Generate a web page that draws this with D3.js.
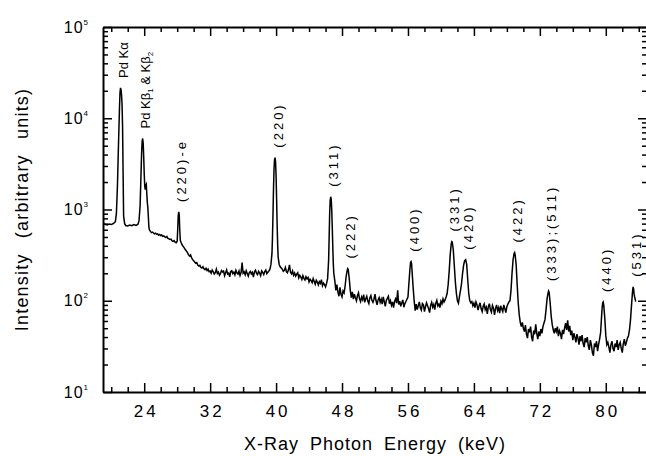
<!DOCTYPE html>
<html>
<head>
<meta charset="utf-8">
<script src="https://cdn.jsdelivr.net/npm/d3@7"></script>
<style>
  body { margin: 0; background: #fff; }
  svg { display: block; font-family: "Liberation Sans", Arial, Helvetica, sans-serif; }
</style>
</head>
<body>
<svg></svg>
<script>
/*
*  DATA
*/

// [energy keV, intensity]
let spectrum = [
  [19.0,700],[19.25,688],[19.5,676],[19.75,694],[20.0,684],[20.25,702],[20.5,735],
  [20.625,900],[20.75,1800],[20.875,5000],[21.0,13000],[21.0625,19000],[21.125,21500],[21.1875,20500],[21.25,18000],[21.3125,14000],[21.375,8000],[21.4375,2500],[21.5,850],[21.625,700],
  [21.75,668],[22.0,660],[22.25,676],[22.5,664],[22.75,682],[23.0,668],[23.25,690],
  [23.375,760],[23.5,1100],[23.5625,1700],[23.625,2700],[23.6875,4200],[23.75,5600],[23.8125,6000],[23.875,5300],[23.9375,3800],[24.0,2500],[24.0625,1800],[24.125,1650],[24.1875,1850],[24.25,1900],[24.3125,1500],[24.375,1200],[24.4375,1050],[24.5,850],[24.5625,650],[24.625,600],
  [24.75,575],[24.875,558],[25.0,566],[25.125,553],[25.25,540],[25.375,549],[25.5,536],[25.625,541],[25.75,522],[25.875,533],[26.0,519],[26.125,526],[26.25,508],[26.375,515],[26.5,502],[26.625,494],
  [26.75,506],[26.875,482],[27.0,476],[27.125,470],[27.25,474],[27.375,452],[27.5,448],[27.625,456],[27.75,438],[27.875,432],
  [28.0,450],[28.0625,600],[28.125,850],[28.1875,940],[28.25,880],[28.3125,600],[28.375,460],
  [28.5,430],[28.625,405],[28.75,392],[28.875,378],[29.0,362],[29.125,350],[29.25,336],[29.375,318],[29.5,310],[29.625,318],[29.75,296],[29.875,282],[30.0,274],[30.125,266],[30.25,258],[30.375,262],
  [30.5,246],[30.625,240],[30.75,244],[30.875,232],[31.0,228],[31.125,236],[31.25,224],[31.375,219],[31.5,227],[31.625,214],[31.75,222],[31.875,208],
  [32.0,211],[32.125,200],[32.25,217],[32.375,208],[32.5,196],[32.625,203],[32.75,222],[32.875,199],[33.0,206],[33.125,190],[33.25,198],[33.375,214],[33.5,207],[33.625,211],[33.75,188],[33.875,203],
  [34.0,218],[34.125,196],[34.25,201],[34.375,183],[34.5,209],[34.625,213],[34.75,198],[34.875,206],[35.0,192],[35.125,215],[35.25,201],[35.375,196],[35.5,212],[35.625,189],[35.75,204],[35.875,262],
  [36.0,200],[36.125,207],[36.25,193],[36.375,213],[36.5,199],[36.625,186],[36.75,204],[36.875,210],[37.0,197],[37.125,205],[37.25,182],[37.375,208],[37.5,216],[37.625,200],[37.75,193],[37.875,210],
  [38.0,201],[38.125,188],[38.25,212],[38.375,204],[38.5,194],[38.625,209],[38.75,217],[38.875,198],[39.0,205],[39.125,212],[39.25,220],
  [39.375,250],[39.5,330],[39.5625,500],[39.625,900],[39.6875,1700],[39.75,2800],[39.8125,3500],[39.875,3700],[39.9375,3300],[40.0,2300],[40.0625,1300],[40.125,700],[40.1875,420],[40.25,300],[40.375,250],[40.5,236],
  [40.75,222],[40.875,210],[41.0,215],[41.125,232],[41.25,209],[41.375,203],[41.5,218],[41.625,247],[41.75,205],[41.875,197],[42.0,212],[42.125,190],[42.25,201],[42.375,186],[42.5,196],[42.625,203],
  [42.75,178],[42.875,190],[43.0,182],[43.125,171],[43.25,188],[43.375,176],[43.5,169],[43.625,183],[43.75,174],[43.875,180],[44.0,161],[44.125,172],[44.25,166],[44.375,158],[44.5,175],[44.625,163],
  [44.75,152],[44.875,168],[45.0,160],[45.125,149],[45.25,162],[45.375,155],[45.5,170],[45.625,146],[45.75,156],[45.875,150],[46.0,142],[46.125,155],
  [46.25,175],[46.375,280],[46.4375,500],[46.5,900],[46.5625,1250],[46.625,1380],[46.6875,1300],[46.75,1000],[46.8125,650],[46.875,400],[46.9375,260],[47.0,200],[47.125,165],[47.25,130],[47.375,150],[47.5,124],[47.625,112],[47.75,140],[47.875,118],[48.0,110],[48.125,128],[48.25,122],
  [48.375,145],[48.5,185],[48.625,215],[48.6875,225],[48.75,220],[48.875,175],[49.0,130],[49.125,108],[49.25,125],
  [49.375,104],[49.5,118],[49.625,108],[49.75,100],[49.875,114],[50.0,122],[50.125,105],[50.25,98],[50.375,110],[50.5,103],[50.625,117],[50.75,96],[50.875,105],[51.0,112],[51.125,99],[51.25,93],
  [51.375,108],[51.5,114],[51.625,101],[51.75,96],[51.875,104],[52.0,118],[52.125,100],[52.25,90],[52.375,102],[52.5,108],[52.625,96],[52.75,104],[52.875,92],[53.0,110],[53.125,98],[53.25,87],
  [53.375,101],[53.5,106],[53.625,112],[53.75,93],[53.875,100],[54.0,89],[54.125,97],[54.25,84],[54.375,99],[54.5,105],[54.625,94],[54.75,130],[54.875,91],[55.0,99],[55.125,87],[55.25,95],
  [55.375,102],[55.5,85],[55.625,93],[55.75,98],[55.875,104],
  [56.0,110],[56.125,160],[56.25,230],[56.3125,262],[56.375,268],[56.4375,255],[56.5,210],[56.625,140],[56.75,100],[56.875,78],
  [57.0,92],[57.125,80],[57.25,88],[57.375,97],[57.5,84],[57.625,79],[57.75,93],[57.875,90],[58.0,76],[58.125,86],[58.25,95],[58.375,88],[58.5,82],[58.625,74],[58.75,89],[58.875,96],
  [59.0,85],[59.125,91],[59.25,80],[59.375,94],[59.5,101],[59.625,88],[59.75,92],[59.875,84],[60.0,99],[60.125,93],[60.25,105],[60.375,97],[60.5,102],[60.625,110],
  [60.75,120],[60.875,150],[61.0,210],[61.125,320],[61.25,420],[61.3125,445],[61.375,440],[61.5,360],[61.625,240],[61.75,160],[61.875,120],[62.0,100],[62.125,94],[62.25,112],[62.375,130],[62.5,155],[62.625,200],[62.75,245],[62.875,275],[63.0,282],[63.125,250],[63.25,170],[63.375,120],[63.5,100],[63.625,95],
  [63.75,98],[63.875,88],[64.0,94],[64.125,84],[64.25,97],[64.375,90],[64.5,79],[64.625,88],[64.75,95],[64.875,82],[65.0,76],[65.125,87],[65.25,92],[65.375,80],[65.5,85],[65.625,72],
  [65.75,86],[65.875,93],[66.0,80],[66.125,75],[66.25,89],[66.375,83],[66.5,70],[66.625,82],[66.75,90],[66.875,78],[67.0,84],[67.125,73],[67.25,88],[67.375,81],[67.5,76],[67.625,90],
  [67.75,82],[67.875,74],[68.0,86],[68.125,92],[68.25,97],
  [68.375,100],[68.5,130],[68.625,200],[68.75,280],[68.875,330],[68.9375,338],[69.0,320],[69.125,250],[69.25,150],[69.375,95],[69.5,70],[69.625,58],[69.75,52],
  [69.875,58],[70.0,50],[70.125,46],[70.25,54],[70.375,43],[70.5,39],[70.625,49],[70.75,45],[70.875,52],[71.0,40],[71.125,36],[71.25,47],[71.375,43],[71.5,55],[71.625,44],[71.75,38],
  [71.875,46],[72.0,41],[72.125,49],[72.25,44],[72.375,52],[72.5,57],
  [72.625,62],[72.75,80],[72.875,105],[73.0,122],[73.0625,128],[73.125,124],[73.25,95],[73.375,68],[73.5,55],[73.625,48],[73.75,44],
  [73.875,50],[74.0,46],[74.125,52],[74.25,41],[74.375,47],[74.5,44],[74.625,38],[74.75,48],[74.875,43],[75.0,50],[75.125,57],[75.25,48],[75.375,61],[75.5,46],[75.625,53],[75.75,42],
  [75.875,47],[76.0,37],[76.125,44],[76.25,40],[76.375,35],[76.5,43],[76.625,39],[76.75,33],[76.875,41],[77.0,36],[77.125,42],[77.25,34],[77.375,31],[77.5,39],[77.625,35],[77.75,40],
  [77.875,32],[78.0,29],[78.125,37],[78.25,33],[78.375,27],[78.5,25],[78.625,34],[78.75,31],[78.875,36],[79.0,28],[79.125,33],[79.25,38],
  [79.375,45],[79.5,70],[79.5625,85],[79.625,95],[79.6875,97],[79.75,90],[79.875,65],[80.0,42],[80.125,33],
  [80.25,35],[80.375,31],[80.5,27],[80.625,33],[80.75,36],[80.875,30],[81.0,28],[81.125,34],[81.25,31],[81.375,37],[81.5,29],[81.625,33],[81.75,35],[81.875,30],[82.0,27],[82.125,34],
  [82.25,38],[82.375,32],[82.5,35],[82.625,39],[82.75,41],
  [82.875,48],[83.0,62],[83.125,90],[83.25,128],[83.3125,142],[83.375,135],[83.4375,118],[83.5,110],[83.5625,105],[83.625,98]
]

// peak annotations: label text and the energy of the peak it sits on
let peakLabels = ['Pd K\u03b1', 'Pd K\u03b2_1 & K\u03b2_2', '(220)-e', '(220)', '(311)', '(222)', '(400)', '(331)', '(420)', '(422)', '(333);(511)', '(440)', '(531)']
let peakEnergies = [21.15, 23.8, 28.2, 39.9, 46.65, 48.7, 56.4, 61.35, 63.0, 68.95, 73.1, 79.7, 83.3]

let xMajor = [24, 32, 40, 48, 56, 64, 72, 80]
let xMinor = [20, 22, 26, 28, 30, 34, 36, 38, 42, 44, 46, 50, 52, 54, 58, 60, 62, 66, 68, 70, 74, 76, 78, 82, 84]
let yMajor = [10, 100, 1000, 10000, 100000]
let yMinor = [20, 30, 40, 50, 60, 70, 80, 90, 200, 300, 400, 500, 600, 700, 800, 900,
              2000, 3000, 4000, 5000, 6000, 7000, 8000, 9000, 20000, 30000, 40000, 50000, 60000, 70000, 80000, 90000]

/*
*  RUN
*/

let width = 646,
    height = 456

let svg = d3.select('svg').attr('width', width).attr('height', height)

let x = d3.scaleLinear().domain([19, 85]).range([103, 647])
let y = d3.scaleLog().domain([10, 1e5]).range([392, 27])

drawAxes()
drawSpectrum()
drawLabels()

/*
*  HELPERS
*/

function styleAxis(g, keepDomain){
  g.attr('font-family', null).attr('font-size', null)
  g.selectAll('.tick line').attr('stroke-width', 1.5)
  if(keepDomain) g.select('.domain').attr('stroke-width', 2)
  else g.select('.domain').remove()
}

function drawAxes(){
  let b = y.range()[0], t = y.range()[1]
  let l = x.range()[0], r = x.range()[1]

  // bottom
  let bottom = svg.append('g').attr('transform', `translate(0,${b})`)
    .call(d3.axisBottom(x).tickValues(xMajor).tickSize(-9).tickSizeOuter(0).tickPadding(13))
  styleAxis(bottom, true)
  bottom.selectAll('.tick text')
    .attr('font-size', 17).attr('letter-spacing', 3).attr('dx', 1.5)
  let bottomMinor = svg.append('g').attr('transform', `translate(0,${b})`)
    .call(d3.axisBottom(x).tickValues(xMinor).tickSize(-5).tickSizeOuter(0).tickFormat(''))
  styleAxis(bottomMinor, false)

  // top
  let top = svg.append('g').attr('transform', `translate(0,${t})`)
    .call(d3.axisTop(x).tickValues(xMajor).tickSize(-9).tickSizeOuter(0).tickFormat(''))
  styleAxis(top, true)
  let topMinor = svg.append('g').attr('transform', `translate(0,${t})`)
    .call(d3.axisTop(x).tickValues(xMinor).tickSize(-5).tickSizeOuter(0).tickFormat(''))
  styleAxis(topMinor, false)

  // left
  let left = svg.append('g').attr('transform', `translate(${l},0)`)
    .call(d3.axisLeft(y).tickValues(yMajor).tickSize(-9).tickSizeOuter(0).tickPadding(15))
  styleAxis(left, true)
  left.selectAll('.tick text')
    .attr('font-size', 16).attr('letter-spacing', 1)
    .text('10')
    .append('tspan').attr('dy', -8).attr('font-size', 8).attr('letter-spacing', 0)
    .text(d => Math.round(Math.log10(d)))
  let leftMinor = svg.append('g').attr('transform', `translate(${l},0)`)
    .call(d3.axisLeft(y).tickValues(yMinor).tickSize(-5).tickSizeOuter(0).tickFormat(''))
  styleAxis(leftMinor, false)

  // right (sits on the edge of the picture)
  let right = svg.append('g').attr('transform', `translate(${r},0)`)
    .call(d3.axisRight(y).tickValues(yMajor).tickSize(-9).tickSizeOuter(0).tickFormat(''))
  styleAxis(right, true)
  let rightMinor = svg.append('g').attr('transform', `translate(${r},0)`)
    .call(d3.axisRight(y).tickValues(yMinor).tickSize(-5).tickSizeOuter(0).tickFormat(''))
  styleAxis(rightMinor, false)

  // titles
  svg.append('text')
    .attr('x', (l + r) / 2).attr('y', 450)
    .attr('text-anchor', 'middle')
    .attr('font-size', 18).attr('letter-spacing', 1).attr('word-spacing', 5)
    .text('X-Ray Photon Energy (keV)')
  svg.append('text')
    .attr('transform', `translate(28,${(b + t) / 2}) rotate(-90)`)
    .attr('text-anchor', 'middle')
    .attr('font-size', 18).attr('letter-spacing', 1.2).attr('word-spacing', 9)
    .text('Intensity (arbitrary units)')
}

function drawSpectrum(){
  let line = d3.line()
    .x(d => x(d[0]))
    .y(d => y(d[1]))
  svg.append('path')
    .datum(spectrum)
    .attr('d', line)
    .attr('fill', 'none')
    .attr('stroke', '#000')
    .attr('stroke-width', 1.5)
}

function drawLabels(){
  peakLabels.forEach((label, i) => {
    let e = peakEnergies[i]
    // tallest point near the given energy
    let near = spectrum.filter(p => Math.abs(p[0] - e) <= 0.35)
    let pk = near.reduce((a, c) => c[1] > a[1] ? c : a)
    let tx = x(pk[0]) + 7.5,
        ty = y(pk[1]) - 10
    let txt = svg.append('text')
      .attr('class', 'peak-label')
      .attr('transform', `translate(${tx},${ty}) rotate(-90)`)
      .attr('font-size', 13)
      .attr('letter-spacing', label[0] == '(' ? 3 : 0)
    // "_n" means subscript n
    let parts = label.split(/_(\d)/)
    parts.forEach((p, j) => {
      if(j % 2 == 0) txt.append('tspan').text(p)
      else txt.append('tspan').attr('font-size', 8).attr('baseline-shift', '-35%').text(p)
    })
  })
}
</script>
</body>
</html>
